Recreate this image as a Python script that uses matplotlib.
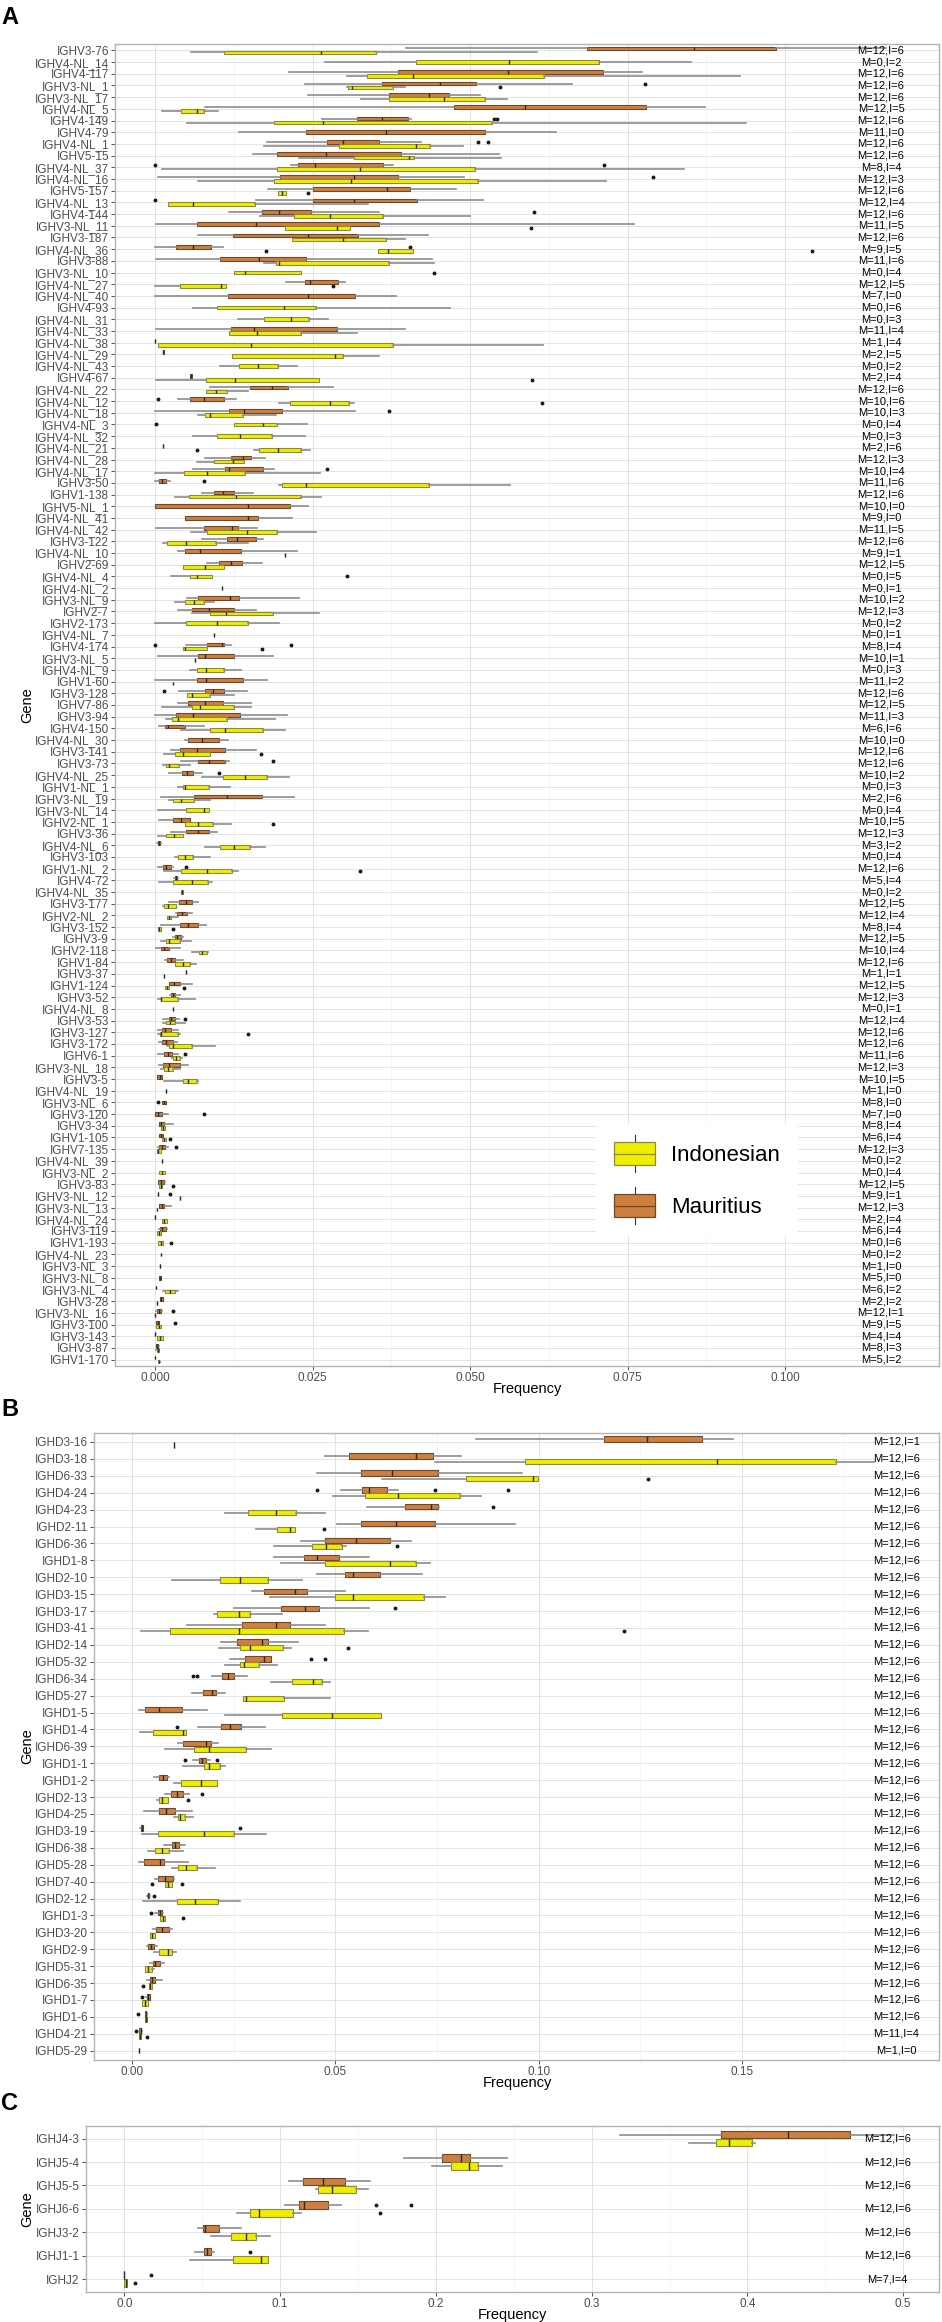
import matplotlib
matplotlib.use("Agg")
import matplotlib.pyplot as plt
from matplotlib.patches import Patch, Rectangle
from matplotlib.lines import Line2D
from matplotlib.legend_handler import HandlerBase
from matplotlib.ticker import MultipleLocator

plt.rcParams['font.family'] = ['Liberation Sans', 'DejaVu Sans']

# ---------------- Panel A (IGHV) ----------------
a_genes = ["IGHV3-76","IGHV4-NL_14","IGHV4-117","IGHV3-NL_1","IGHV3-NL_17","IGHV4-NL_5","IGHV4-149","IGHV4-79",
 "IGHV4-NL_1","IGHV5-15","IGHV4-NL_37","IGHV4-NL_16","IGHV5-157","IGHV4-NL_13","IGHV4-144","IGHV3-NL_11",
 "IGHV3-187","IGHV4-NL_36","IGHV3-88","IGHV3-NL_10","IGHV4-NL_27","IGHV4-NL_40","IGHV4-93","IGHV4-NL_31",
 "IGHV4-NL_33","IGHV4-NL_38","IGHV4-NL_29","IGHV4-NL_43","IGHV4-67","IGHV4-NL_22","IGHV4-NL_12","IGHV4-NL_18",
 "IGHV4-NL_3","IGHV4-NL_32","IGHV4-NL_21","IGHV4-NL_28","IGHV4-NL_17","IGHV3-50","IGHV1-138","IGHV5-NL_1",
 "IGHV4-NL_41","IGHV4-NL_42","IGHV3-122","IGHV4-NL_10","IGHV2-69","IGHV4-NL_4","IGHV4-NL_2","IGHV3-NL_9",
 "IGHV2-7","IGHV2-173","IGHV4-NL_7","IGHV4-174","IGHV3-NL_5","IGHV4-NL_9","IGHV1-60","IGHV3-128","IGHV7-86",
 "IGHV3-94","IGHV4-150","IGHV4-NL_30","IGHV3-141","IGHV3-73","IGHV4-NL_25","IGHV1-NL_1","IGHV3-NL_19",
 "IGHV3-NL_14","IGHV2-NL_1","IGHV3-36","IGHV4-NL_6","IGHV3-103","IGHV1-NL_2","IGHV4-72","IGHV4-NL_35",
 "IGHV3-177","IGHV2-NL_2","IGHV3-152","IGHV3-9","IGHV2-118","IGHV1-84","IGHV3-37","IGHV1-124","IGHV3-52",
 "IGHV4-NL_8","IGHV3-53","IGHV3-127","IGHV3-172","IGHV6-1","IGHV3-NL_18","IGHV3-5","IGHV4-NL_19","IGHV3-NL_6",
 "IGHV3-120","IGHV3-34","IGHV1-105","IGHV7-135","IGHV4-NL_39","IGHV3-NL_2","IGHV3-83","IGHV3-NL_12",
 "IGHV3-NL_13","IGHV4-NL_24","IGHV3-119","IGHV1-193","IGHV4-NL_23","IGHV3-NL_3","IGHV3-NL_8","IGHV3-NL_4",
 "IGHV3-28","IGHV3-NL_16","IGHV3-100","IGHV3-143","IGHV3-87","IGHV1-170"]
a_m_count = [12,0,12,12,12,12,12,11,12,12,8,12,12,12,12,11,12,9,11,0,12,7,0,0,11,1,2,0,2,12,10,10,0,0,2,12,10,
 11,12,10,9,11,12,9,12,0,0,10,12,0,0,8,10,0,11,12,12,11,6,10,12,12,10,0,2,0,10,12,3,0,12,5,0,12,12,8,12,10,12,
 1,12,12,0,12,12,12,11,12,10,1,8,7,8,6,12,0,0,12,9,12,2,6,0,0,1,5,6,2,12,9,4,8,5]
a_i_count = [6,2,6,6,6,5,6,0,6,6,4,3,6,4,6,5,6,5,6,4,5,0,6,3,4,4,5,2,4,6,6,3,4,3,6,3,4,6,6,0,0,5,6,1,5,5,1,2,3,
 2,1,4,1,3,2,6,5,3,6,0,6,6,2,3,6,4,5,3,2,4,6,4,2,5,4,4,5,4,6,1,5,3,1,4,6,6,6,3,5,0,0,0,4,4,3,2,4,5,1,3,4,4,6,
 2,0,0,2,2,1,5,4,3,2]
# (whisker low, Q1, median, Q3, whisker high); None = no box
a_maur = [
 (0.0399,0.0686,0.0855,0.0986,0.1160), None, (0.0213,0.0386,0.0560,0.0711,0.0773),
 (0.0238,0.0360,0.0452,0.0510,0.0661), (0.0242,0.0372,0.0434,0.0466,0.0516), (0.0079,0.0474,0.0587,0.0779,0.0873),
 (0.0265,0.0320,0.0360,0.0401,0.0406), (0.0134,0.0240,0.0367,0.0524,0.0637), (0.0177,0.0273,0.0298,0.0356,0.0422),
 (0.0155,0.0194,0.0272,0.0391,0.0546), (0.0215,0.0227,0.0254,0.0361,0.0378), (0.0005,0.0199,0.0316,0.0385,0.0490),
 (0.0179,0.0251,0.0368,0.0404,0.0477), (0.0160,0.0251,0.0316,0.0416,0.0521), (0.0117,0.0170,0.0196,0.0247,0.0356),
 (0.0001,0.0067,0.0161,0.0355,0.0760), (0.0068,0.0124,0.0243,0.0322,0.0433), (0.0000,0.0033,0.0061,0.0089,0.0108),
 (0.0001,0.0103,0.0165,0.0239,0.0439), None, (0.0208,0.0238,0.0246,0.0290,0.0301),
 (0.0000,0.0116,0.0243,0.0317,0.0382), None, None,
 (0.0001,0.0120,0.0157,0.0289,0.0396), (0.0000,0.0000,0.0000,0.0000,0.0000), (0.0012,0.0012,0.0013,0.0014,0.0014),
 None, (0.0055,0.0055,0.0057,0.0059,0.0059), (0.0087,0.0151,0.0186,0.0211,0.0283),
 (0.0037,0.0055,0.0077,0.0110,0.0129), (0.0000,0.0118,0.0141,0.0202,0.0318), None,
 None, (0.0013,0.0013,0.0013,0.0013,0.0013), (0.0079,0.0120,0.0140,0.0152,0.0174),
 (0.0060,0.0111,0.0117,0.0171,0.0189), (0.0000,0.0007,0.0011,0.0018,0.0024), (0.0074,0.0093,0.0108,0.0125,0.0156),
 (0.0000,0.0000,0.0147,0.0214,0.0242), (0.0048,0.0048,0.0147,0.0164,0.0218), (0.0001,0.0077,0.0122,0.0132,0.0162),
 (0.0074,0.0115,0.0130,0.0161,0.0171), (0.0037,0.0047,0.0072,0.0137,0.0225), (0.0082,0.0102,0.0121,0.0138,0.0170),
 None, None, (0.0050,0.0068,0.0119,0.0133,0.0228),
 (0.0036,0.0059,0.0085,0.0125,0.0161), None, None,
 (0.0049,0.0083,0.0106,0.0110,0.0121), (0.0004,0.0069,0.0079,0.0126,0.0188), None,
 (0.0000,0.0067,0.0081,0.0140,0.0178), (0.0038,0.0079,0.0092,0.0110,0.0146), (0.0037,0.0053,0.0080,0.0108,0.0152),
 (0.0000,0.0034,0.0060,0.0135,0.0209), (0.0007,0.0016,0.0021,0.0047,0.0078), (0.0048,0.0052,0.0075,0.0101,0.0116),
 (0.0025,0.0039,0.0067,0.0111,0.0161), (0.0042,0.0069,0.0085,0.0111,0.0117), (0.0022,0.0043,0.0051,0.0061,0.0075),
 None, (0.0009,0.0062,0.0115,0.0169,0.0221), None,
 (0.0006,0.0029,0.0041,0.0055,0.0055), (0.0026,0.0049,0.0068,0.0086,0.0098), (0.0003,0.0005,0.0006,0.0008,0.0010),
 None, (0.0004,0.0013,0.0018,0.0026,0.0029), (0.0030,0.0031,0.0033,0.0035,0.0036),
 None, (0.0023,0.0038,0.0049,0.0059,0.0068), (0.0033,0.0035,0.0043,0.0051,0.0059),
 (0.0010,0.0039,0.0053,0.0068,0.0081), (0.0028,0.0031,0.0035,0.0041,0.0045), (0.0002,0.0010,0.0015,0.0022,0.0040),
 (0.0016,0.0019,0.0025,0.0032,0.0045), (0.0049,0.0049,0.0049,0.0049,0.0049), (0.0022,0.0023,0.0030,0.0039,0.0059),
 (0.0024,0.0025,0.0029,0.0032,0.0040), None, (0.0013,0.0022,0.0026,0.0031,0.0038),
 (0.0004,0.0011,0.0016,0.0026,0.0036), (0.0006,0.0011,0.0018,0.0029,0.0035), (0.0004,0.0015,0.0020,0.0027,0.0036),
 (0.0006,0.0013,0.0023,0.0039,0.0052), (0.0003,0.0003,0.0008,0.0011,0.0011), (0.0018,0.0018,0.0018,0.0018,0.0018),
 (0.0011,0.0011,0.0015,0.0018,0.0018), (0.0000,0.0000,0.0004,0.0011,0.0021), (0.0006,0.0006,0.0010,0.0015,0.0029),
 (0.0006,0.0006,0.0010,0.0013,0.0013), (0.0005,0.0007,0.0011,0.0016,0.0021), None,
 None, (0.0004,0.0005,0.0010,0.0014,0.0016), (0.0004,0.0004,0.0004,0.0005,0.0005),
 (0.0006,0.0007,0.0011,0.0015,0.0025), (0.0000,0.0000,0.0000,0.0000,0.0000), (0.0006,0.0008,0.0011,0.0017,0.0019),
 None, None, (0.0008,0.0008,0.0008,0.0008,0.0008),
 (0.0006,0.0007,0.0008,0.0009,0.0010), (0.0001,0.0001,0.0001,0.0001,0.0001), (0.0008,0.0008,0.0010,0.0013,0.0013),
 (0.0002,0.0003,0.0006,0.0010,0.0011), (0.0001,0.0001,0.0004,0.0007,0.0007), (0.0000,0.0000,0.0000,0.0000,0.0000),
 (0.0001,0.0002,0.0003,0.0005,0.0006), (0.0000,0.0000,0.0000,0.0000,0.0000)]
a_maur_out = {3:[0.0777], 6:[0.0538,0.0542], 8:[0.0512,0.0528], 10:[0.0000,0.0713], 11:[0.0790], 13:[0.0000],
 14:[0.0601], 17:[0.0404], 30:[0.0004], 31:[0.0371], 36:[0.0273], 37:[0.0077], 51:[0.0000,0.0216],
 55:[0.0015], 61:[0.0188], 62:[0.0102], 70:[0.0049], 83:[0.0048], 86:[0.0047], 90:[0.0004], 91:[0.0078],
 94:[0.0033], 98:[0.0024], 108:[0.0029], 109:[0.0032]}
a_indo = [
 (0.0057,0.0110,0.0263,0.0351,0.0606), (0.0270,0.0414,0.0561,0.0704,0.0850), (0.0304,0.0336,0.0409,0.0617,0.0929),
 (0.0304,0.0307,0.0313,0.0377,0.0396), (0.0327,0.0371,0.0459,0.0524,0.0559), (0.0011,0.0042,0.0066,0.0078,0.0100),
 (0.0050,0.0189,0.0266,0.0534,0.0938), None, (0.0173,0.0292,0.0414,0.0436,0.0488),
 (0.0228,0.0316,0.0403,0.0411,0.0549), (0.0011,0.0194,0.0325,0.0507,0.0840), (0.0069,0.0189,0.0311,0.0513,0.0716),
 (0.0195,0.0195,0.0202,0.0208,0.0208), (0.0021,0.0021,0.0060,0.0158,0.0338), (0.0166,0.0221,0.0277,0.0361,0.0500),
 (0.0207,0.0207,0.0289,0.0310,0.0310), (0.0217,0.0217,0.0298,0.0367,0.0397), (0.0354,0.0354,0.0370,0.0409,0.0409),
 (0.0173,0.0192,0.0197,0.0371,0.0442), (0.0125,0.0125,0.0143,0.0232,0.0232), (0.0000,0.0040,0.0105,0.0112,0.0112),
 None, (0.0061,0.0099,0.0205,0.0256,0.0468), (0.0131,0.0173,0.0216,0.0244,0.0274),
 (0.0118,0.0118,0.0162,0.0232,0.0321), (0.0005,0.0005,0.0152,0.0377,0.0615), (0.0122,0.0122,0.0286,0.0299,0.0356),
 (0.0103,0.0134,0.0163,0.0195,0.0225), (0.0001,0.0081,0.0127,0.0261,0.0261), (0.0081,0.0081,0.0096,0.0114,0.0147),
 (0.0197,0.0214,0.0277,0.0308,0.0316), (0.0069,0.0079,0.0087,0.0140,0.0192), (0.0125,0.0125,0.0171,0.0194,0.0241),
 (0.0060,0.0098,0.0135,0.0186,0.0238), (0.0157,0.0165,0.0195,0.0231,0.0246), (0.0066,0.0094,0.0124,0.0141,0.0141),
 (0.0000,0.0046,0.0082,0.0143,0.0262), (0.0197,0.0201,0.0240,0.0435,0.0564), (0.0031,0.0054,0.0129,0.0232,0.0263),
 None, None, (0.0057,0.0083,0.0146,0.0194,0.0256),
 (0.0013,0.0019,0.0049,0.0097,0.0148), (0.0206,0.0206,0.0206,0.0206,0.0206), (0.0044,0.0044,0.0080,0.0110,0.0110),
 (0.0025,0.0055,0.0067,0.0091,0.0091), (0.0106,0.0106,0.0106,0.0106,0.0106), (0.0031,0.0047,0.0062,0.0078,0.0093),
 (0.0059,0.0087,0.0113,0.0187,0.0260), (0.0000,0.0049,0.0099,0.0147,0.0197), (0.0093,0.0093,0.0093,0.0093,0.0093),
 (0.0045,0.0045,0.0048,0.0083,0.0083), (0.0063,0.0063,0.0063,0.0063,0.0063), (0.0055,0.0067,0.0081,0.0109,0.0136),
 (0.0029,0.0029,0.0029,0.0029,0.0029), (0.0051,0.0051,0.0059,0.0087,0.0126), (0.0011,0.0058,0.0071,0.0125,0.0152),
 (0.0017,0.0027,0.0036,0.0114,0.0190), (0.0041,0.0088,0.0111,0.0171,0.0206), None,
 (0.0015,0.0032,0.0045,0.0087,0.0087), (0.0013,0.0017,0.0023,0.0038,0.0055), (0.0074,0.0108,0.0143,0.0178,0.0213),
 (0.0037,0.0044,0.0048,0.0085,0.0119), (0.0023,0.0029,0.0042,0.0062,0.0087), (0.0005,0.0049,0.0078,0.0086,0.0086),
 (0.0048,0.0048,0.0068,0.0092,0.0121), (0.0004,0.0017,0.0030,0.0044,0.0044), (0.0079,0.0103,0.0125,0.0151,0.0175),
 (0.0032,0.0036,0.0047,0.0061,0.0087), (0.0015,0.0042,0.0083,0.0122,0.0131), (0.0006,0.0028,0.0058,0.0084,0.0091),
 (0.0042,0.0042,0.0043,0.0044,0.0044), (0.0012,0.0015,0.0021,0.0034,0.0034), (0.0019,0.0019,0.0022,0.0026,0.0036),
 (0.0004,0.0004,0.0006,0.0010,0.0010), (0.0010,0.0018,0.0022,0.0040,0.0057), (0.0059,0.0070,0.0075,0.0082,0.0084),
 (0.0032,0.0032,0.0044,0.0056,0.0065), (0.0015,0.0015,0.0015,0.0015,0.0015), (0.0016,0.0016,0.0019,0.0023,0.0023),
 (0.0005,0.0010,0.0010,0.0037,0.0064), (0.0028,0.0028,0.0028,0.0028,0.0028), (0.0012,0.0017,0.0024,0.0032,0.0048),
 (0.0004,0.0008,0.0010,0.0036,0.0040), (0.0019,0.0022,0.0029,0.0059,0.0095), (0.0027,0.0029,0.0034,0.0040,0.0043),
 (0.0010,0.0014,0.0020,0.0028,0.0040), (0.0014,0.0044,0.0052,0.0066,0.0068), None,
 None, None, (0.0010,0.0010,0.0013,0.0016,0.0016),
 (0.0011,0.0011,0.0014,0.0017,0.0017), (0.0003,0.0003,0.0005,0.0009,0.0009), (0.0011,0.0011,0.0011,0.0011,0.0011),
 (0.0006,0.0006,0.0011,0.0016,0.0016), (0.0006,0.0006,0.0009,0.0011,0.0011), (0.0039,0.0039,0.0039,0.0039,0.0039),
 (0.0003,0.0003,0.0003,0.0003,0.0003), (0.0011,0.0011,0.0015,0.0019,0.0019), (0.0003,0.0003,0.0006,0.0010,0.0010),
 (0.0005,0.0005,0.0009,0.0012,0.0012), (0.0010,0.0010,0.0010,0.0010,0.0010), None,
 None, (0.0012,0.0016,0.0024,0.0031,0.0037), (0.0003,0.0003,0.0003,0.0003,0.0003),
 (0.0000,0.0000,0.0000,0.0000,0.0000), (0.0001,0.0001,0.0006,0.0010,0.0010), (0.0003,0.0003,0.0008,0.0012,0.0012),
 (0.0002,0.0003,0.0004,0.0006,0.0007), (0.0004,0.0005,0.0006,0.0007,0.0008)]
a_indo_out = {3:[0.0548], 12:[0.0242], 15:[0.0596], 17:[0.0176,0.1043], 19:[0.0442], 20:[0.0283], 28:[0.0598],
 30:[0.0614], 32:[0.0001], 34:[0.0066], 45:[0.0304], 51:[0.0169], 60:[0.0168], 66:[0.0187], 70:[0.0326],
 75:[0.0029], 80:[0.0046], 84:[0.0148], 93:[0.0024], 97:[0.0029], 102:[0.0025]}

# ---------------- Panel B (IGHD) ----------------
b_genes = ["IGHD3-16","IGHD3-18","IGHD6-33","IGHD4-24","IGHD4-23","IGHD2-11","IGHD6-36","IGHD1-8","IGHD2-10",
 "IGHD3-15","IGHD3-17","IGHD3-41","IGHD2-14","IGHD5-32","IGHD6-34","IGHD5-27","IGHD1-5","IGHD1-4","IGHD6-39",
 "IGHD1-1","IGHD1-2","IGHD2-13","IGHD4-25","IGHD3-19","IGHD6-38","IGHD5-28","IGHD7-40","IGHD2-12","IGHD1-3",
 "IGHD3-20","IGHD2-9","IGHD5-31","IGHD6-35","IGHD1-7","IGHD1-6","IGHD4-21","IGHD5-29"]
b_m_count = [12]*35 + [11, 1]
b_i_count = [1] + [6]*34 + [4, 0]
b_maur = [
 (0.0846,0.1160,0.1266,0.1403,0.1478), (0.0475,0.0534,0.0699,0.0740,0.0810), (0.0454,0.0562,0.0640,0.0753,0.0960),
 (0.0513,0.0565,0.0584,0.0628,0.0654), (0.0579,0.0671,0.0735,0.0753,0.0756), (0.0503,0.0563,0.0649,0.0744,0.0943),
 (0.0415,0.0475,0.0551,0.0635,0.0687), (0.0350,0.0422,0.0454,0.0510,0.0584), (0.0454,0.0524,0.0543,0.0610,0.0713),
 (0.0296,0.0325,0.0400,0.0431,0.0524), (0.0251,0.0366,0.0426,0.0460,0.0584), (0.0134,0.0271,0.0353,0.0388,0.0475),
 (0.0219,0.0259,0.0319,0.0335,0.0409), (0.0240,0.0278,0.0324,0.0341,0.0341), (0.0197,0.0221,0.0235,0.0251,0.0282),
 (0.0147,0.0174,0.0196,0.0206,0.0229), (0.0016,0.0031,0.0066,0.0122,0.0184), (0.0162,0.0218,0.0240,0.0269,0.0326),
 (0.0112,0.0125,0.0182,0.0194,0.0212), (0.0151,0.0165,0.0172,0.0182,0.0191), (0.0054,0.0065,0.0075,0.0085,0.0091),
 (0.0082,0.0096,0.0110,0.0124,0.0141), (0.0029,0.0065,0.0084,0.0106,0.0147), (0.0019,0.0022,0.0024,0.0026,0.0026),
 (0.0079,0.0097,0.0106,0.0116,0.0129), (0.0018,0.0029,0.0068,0.0078,0.0138), (0.0056,0.0063,0.0082,0.0100,0.0103),
 (0.0037,0.0038,0.0040,0.0042,0.0044), (0.0056,0.0063,0.0069,0.0074,0.0076), (0.0051,0.0060,0.0074,0.0091,0.0097),
 (0.0037,0.0040,0.0046,0.0054,0.0062), (0.0043,0.0051,0.0057,0.0068,0.0078), (0.0037,0.0043,0.0049,0.0057,0.0074),
 (0.0035,0.0037,0.0040,0.0043,0.0044), (0.0031,0.0032,0.0034,0.0035,0.0037), (0.0016,0.0018,0.0021,0.0022,0.0024),
 (0.0016,0.0016,0.0016,0.0016,0.0016)]
b_maur_out = {3:[0.0456,0.0744,0.0924], 4:[0.0887], 10:[0.0647], 13:[0.0441,0.0475], 14:[0.0150,0.0159],
 17:[0.0110], 19:[0.0131,0.0209], 21:[0.0172], 23:[0.0266], 27:[0.0054], 28:[0.0046], 33:[0.0024],
 34:[0.0015], 35:[0.0009]}
b_indo = [
 (0.0104,0.0104,0.0104,0.0104,0.0104), (0.0744,0.0966,0.1440,0.1731,0.1824), (0.0615,0.0822,0.0985,0.0999,0.0999),
 (0.0494,0.0572,0.0654,0.0807,0.0859), (0.0229,0.0285,0.0353,0.0403,0.0475), (0.0306,0.0356,0.0388,0.0400,0.0400),
 (0.0350,0.0443,0.0476,0.0516,0.0526), (0.0366,0.0475,0.0634,0.0699,0.0734), (0.0099,0.0215,0.0266,0.0335,0.0418),
 (0.0340,0.0500,0.0543,0.0718,0.0769), (0.0201,0.0210,0.0262,0.0291,0.0368), (0.0021,0.0093,0.0262,0.0522,0.0581),
 (0.0213,0.0266,0.0291,0.0371,0.0391), (0.0229,0.0266,0.0275,0.0312,0.0357), (0.0341,0.0393,0.0444,0.0468,0.0487),
 (0.0272,0.0272,0.0281,0.0374,0.0488), (0.0229,0.0369,0.0491,0.0613,0.0613), (0.0019,0.0051,0.0126,0.0132,0.0132),
 (0.0081,0.0153,0.0190,0.0279,0.0341), (0.0126,0.0176,0.0190,0.0216,0.0229), (0.0103,0.0121,0.0169,0.0210,0.0210),
 (0.0062,0.0065,0.0074,0.0088,0.0088), (0.0103,0.0112,0.0119,0.0129,0.0150), (0.0024,0.0063,0.0178,0.0251,0.0329),
 (0.0038,0.0057,0.0074,0.0090,0.0125), (0.0099,0.0112,0.0132,0.0160,0.0203), (0.0082,0.0082,0.0088,0.0099,0.0099),
 (0.0026,0.0110,0.0154,0.0212,0.0265), (0.0069,0.0069,0.0075,0.0082,0.0082), (0.0044,0.0044,0.0050,0.0056,0.0056),
 (0.0053,0.0066,0.0088,0.0099,0.0109), (0.0032,0.0032,0.0038,0.0050,0.0053), (0.0041,0.0041,0.0044,0.0049,0.0049),
 (0.0025,0.0025,0.0032,0.0040,0.0040), (0.0031,0.0032,0.0034,0.0036,0.0037), (0.0016,0.0017,0.0019,0.0021,0.0022),
 None]
b_indo_out = {2:[0.1268], 5:[0.0472], 6:[0.0651], 11:[0.1210], 12:[0.0532], 21:[0.0137], 26:[0.0050,0.0122],
 28:[0.0126], 32:[0.0026], 35:[0.0037]}

# ---------------- Panel C (IGHJ) ----------------
c_genes = ["IGHJ4-3","IGHJ5-4","IGHJ5-5","IGHJ6-6","IGHJ3-2","IGHJ1-1","IGHJ2"]
c_m_count = [12,12,12,12,12,12,7]
c_i_count = [6,6,6,6,6,6,4]
c_maur = [(0.3179,0.3830,0.4258,0.4659,0.4944), (0.1796,0.2039,0.2158,0.2220,0.2455),
 (0.1056,0.1145,0.1276,0.1414,0.1580), (0.1033,0.1118,0.1156,0.1310,0.1391),
 (0.0474,0.0505,0.0520,0.0609,0.0751), (0.0455,0.0513,0.0532,0.0555,0.0578),
 (0.0000,0.0000,0.0000,0.0000,0.0000)]
c_maur_out = {3:[0.1615,0.1838], 5:[0.0809], 6:[0.0170]}
c_indo = [(0.3626,0.3800,0.3881,0.4027,0.4050), (0.1973,0.2100,0.2212,0.2270,0.2424),
 (0.1233,0.1241,0.1333,0.1487,0.1565), (0.0721,0.0805,0.0867,0.1083,0.1137),
 (0.0555,0.0686,0.0778,0.0848,0.0933), (0.0420,0.0697,0.0879,0.0925,0.0925),
 (0.0000,0.0000,0.0010,0.0019,0.0019)]
c_indo_out = {3:[0.1638], 6:[0.0066]}

legend_labels = ["Indonesian", "Mauritius"]

# ---------------- styling ----------------
W, H = 942, 2322
YEL, YEL_EC = '#EEEE00', '#8A8A40'
ORA, ORA_EC = '#CD7F3F', '#6E4A2A'
WHISK = '#8C8C8C'
TICKC = '#4D4D4D'

fig = plt.figure(figsize=(W/100, H/100), dpi=100)

def fbox(l, t, r, b):
    return [l/W, 1 - b/H, (r - l)/W, (b - t)/H]

def draw_group(ax, boxes, outs, pos, fc, ec):
    stats, positions = [], []
    for i, bx in enumerate(boxes):
        if bx is None:
            continue
        lo, q1, md, q3, hi = bx
        stats.append(dict(whislo=lo, q1=q1, med=md, q3=q3, whishi=hi, fliers=outs.get(i, [])))
        positions.append(pos[i])
    ax.bxp(stats, positions=positions, widths=0.32, orientation='horizontal', patch_artist=True,
           showcaps=False, manage_ticks=False,
           boxprops=dict(facecolor=fc, edgecolor=ec, linewidth=0.8),
           medianprops=dict(color='#2A2A2A', linewidth=1.0),
           whiskerprops=dict(color=WHISK, linewidth=1.2),
           flierprops=dict(marker='o', markersize=1.8, markerfacecolor='#1A1A1A',
                           markeredgecolor='#1A1A1A', linestyle='none'))

def panel(rect, genes, mcount, icount, maur, maur_out, indo, indo_out, xlim, xticks, xtl, minor, tx):
    ax = fig.add_axes(fbox(*rect))
    n = len(genes)
    pos_m, pos_i = [], []
    for i in range(n):
        both = maur[i] is not None and indo[i] is not None
        pos_m.append(i - 0.17 if both else i)
        pos_i.append(i + 0.17 if both else i)
    ax.set_axisbelow(True)
    draw_group(ax, maur, maur_out, pos_m, ORA, ORA_EC)
    draw_group(ax, indo, indo_out, pos_i, YEL, YEL_EC)
    for i in range(n):
        ax.text(tx, i, f"M={mcount[i]},I={icount[i]}", ha='center', va='center', fontsize=8, color='black')
    ax.set_xlim(*xlim)
    ax.set_ylim(n - 1 + 0.55, -0.55)
    ax.set_yticks(range(n))
    ax.set_yticklabels(genes)
    ax.set_xticks(xticks)
    ax.set_xticklabels(xtl)
    ax.xaxis.set_minor_locator(MultipleLocator(minor))
    ax.grid(which='major', color='#DEDEDE', linewidth=0.6)
    ax.grid(which='minor', axis='x', color='#EFEFEF', linewidth=0.4)
    ax.tick_params(axis='both', which='major', labelsize=8.5, labelcolor=TICKC, color='#333333',
                   length=3, width=0.6, pad=1.5)
    ax.tick_params(axis='x', which='minor', length=0)
    for s in ax.spines.values():
        s.set_color('#B3B3B3')
        s.set_linewidth(1.0)
    return ax

axA = panel((115.3, 44, 939, 1366), a_genes, a_m_count, a_i_count, a_maur, a_maur_out, a_indo, a_indo_out,
            (-0.0063, 0.1244), [0, 0.025, 0.05, 0.075, 0.1], ["0.000", "0.025", "0.050", "0.075", "0.100"],
            0.0125, 0.1152)
axB = panel((94.3, 1432.7, 939, 2060), b_genes, b_m_count, b_i_count, b_maur, b_maur_out, b_indo, b_indo_out,
            (-0.0093, 0.1985), [0, 0.05, 0.10, 0.15], ["0.00", "0.05", "0.10", "0.15"], 0.025, 0.188)
axC = panel((85.9, 2125.7, 939, 2292), c_genes, c_m_count, c_i_count, c_maur, c_maur_out, c_indo, c_indo_out,
            (-0.0247, 0.523), [0, 0.1, 0.2, 0.3, 0.4, 0.5], ["0.0", "0.1", "0.2", "0.3", "0.4", "0.5"], 0.05, 0.490)

# panel letters, axis titles
for lab, y in (("A", 17), ("B", 1410), ("C", 2103)):
    fig.text(10/W, 1 - y/H, lab, fontsize=17, fontweight='bold', ha='center', va='center')
for x, y in ((527, 1389), (517, 2083), (512, 2315)):
    fig.text(x/W, 1 - y/H, "Frequency", fontsize=10.5, ha='center', va='center')
for y in (705, 1746, 2209):
    fig.text(27/W, 1 - y/H, "Gene", fontsize=10.5, rotation=90, ha='center', va='center')

# legend with boxplot-style keys
class BoxKey(HandlerBase):
    def create_artists(self, legend, orig, xd, yd, width, height, fontsize, trans):
        fc, ec = orig.get_facecolor(), orig.get_edgecolor()
        x0, y0 = -xd, -yd
        cx = x0 + width / 2
        wl = Line2D([cx, cx], [y0 - 0.3 * height, y0 + 1.3 * height], color='#333333', lw=0.8, transform=trans)
        r = Rectangle((x0, y0), width, height, facecolor=fc, edgecolor=ec, lw=0.9, transform=trans)
        ml = Line2D([x0, x0 + width], [y0 + height / 2] * 2, color=ec, lw=0.9, transform=trans)
        return [wl, r, ml]

h_ind = Patch(facecolor=YEL, edgecolor=YEL_EC)
h_mau = Patch(facecolor=ORA, edgecolor=ORA_EC)
axA.legend([h_ind, h_mau], legend_labels, handler_map={Patch: BoxKey()}, loc='center',
           bbox_to_anchor=(697/W, 1 - 1180/H), bbox_transform=fig.transFigure, fontsize=16,
           handlelength=1.85, handleheight=1.25, handletextpad=0.7, labelspacing=1.25,
           frameon=True, facecolor='white', edgecolor='none', framealpha=1.0, borderpad=0.8)

fig.savefig("out.png", dpi=100)
